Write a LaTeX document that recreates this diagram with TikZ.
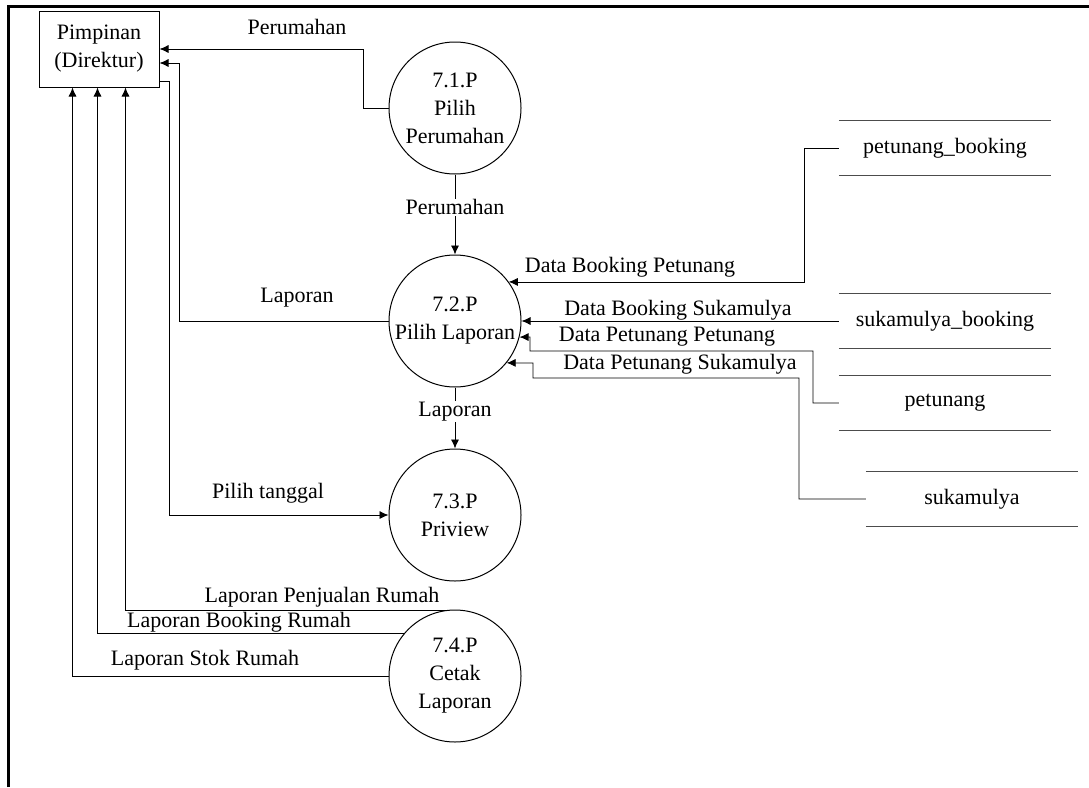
\documentclass[tikz,border=0pt]{standalone}
\usepackage{fontspec}
\setmainfont{Liberation Serif}
\usetikzlibrary{arrows.meta}
\tikzset{
  proses/.style={draw,circle,line width=1pt,minimum size=132pt,inner sep=0pt,align=center},
  entitas/.style={draw,line width=1pt,minimum width=120pt,minimum height=76pt,align=center},
  simpan/.style={minimum width=212pt,minimum height=54pt},
  alir/.style={line width=0.8pt}
}
\begin{document}
\begin{tikzpicture}[x=1pt,y=-1pt,>={Latex[length=9pt,width=8pt]},font=\fontsize{22}{28}\selectfont]
\useasboundingbox (0,0) rectangle (1089,787);
\draw[line width=3pt] (8,787) -- (8,6) -- (1089,6);
\node[entitas] (dir) at (99,49) {Pimpinan\\(Direktur)};
\node[proses] (p71) at (455,108) {7.1.P\\Pilih\\Perumahan};
\node[proses] (p72) at (455,321) {7.2.P\\Pilih Laporan};
\node[proses] (p73) at (455,515) {7.3.P\\Priview};
\node[proses] (p74) at (455,676) {7.4.P\\Cetak\\Laporan};
\node[simpan] (pb) at (945,148) {petunang\_booking};
\node[simpan] (sb) at (945,321) {sukamulya\_booking};
\node[simpan] (pt) at (945,403) {petunang};
\node[simpan] (sk) at (972,499) {sukamulya};
\foreach \s in {pb,sb,pt,sk}
  \draw[black!70,line width=0.8pt] (\s.north west) -- (\s.north east) (\s.south west) -- (\s.south east);
\draw[alir,->] (p71.west) -- (363,108) |- (dir.east);
\node (lper) at (297,27) {Perumahan};
\draw[alir,->] (p71) -- node[pos=0.41,fill=white,inner sep=1pt] (lper2) {Perumahan} (p72);
\draw[alir,->] (p72.west) -- (179,321) |- ([yshift=-14pt]dir.east);
\node (llap) at (297,298) {Laporan};
\draw[alir,->] (p72) -- node[pos=0.4,fill=white,inner sep=1pt] (llap2) {Laporan} (p73);
\draw[alir,->] ([yshift=-32pt]dir.east) -- (169,81) |- (p73.west);
\node (ltgl) at (268,493) {Pilih tanggal};
\draw[alir,->] (pb.west) -- (804,148) |- (p72.36);
\node (ldbp) at (630,267) {Data Booking Petunang};
\draw[alir,->] (sb.west) -- (p72.east);
\node (ldbs) at (678,310) {Data Booking Sukamulya};
\draw[alir,->] (pt.west) -- (813,403) |- (530,351) -- (530,337) -- (p72.-14);
\node (ldpp) at (667,337) {Data Petunang Petunang};
\draw[alir,->] (sk.west) -- (799,499) |- (533,378) -- (533,363) -- (p72.-39.5);
\node (ldps) at (680,364) {Data Petunang Sukamulya};
\draw[alir,->] (p74.97) -| ([xshift=87pt]dir.south west);
\node (lpenj) at (322,597) {Laporan Penjualan Rumah};
\draw[alir,->] (p74.140.5) -| ([xshift=59pt]dir.south west);
\node (lbook) at (239,622) {Laporan Booking Rumah};
\draw[alir,->] (p74.west) -| ([xshift=34pt]dir.south west);
\node (lstok) at (205,660) {Laporan Stok Rumah};
\end{tikzpicture}
\end{document}
